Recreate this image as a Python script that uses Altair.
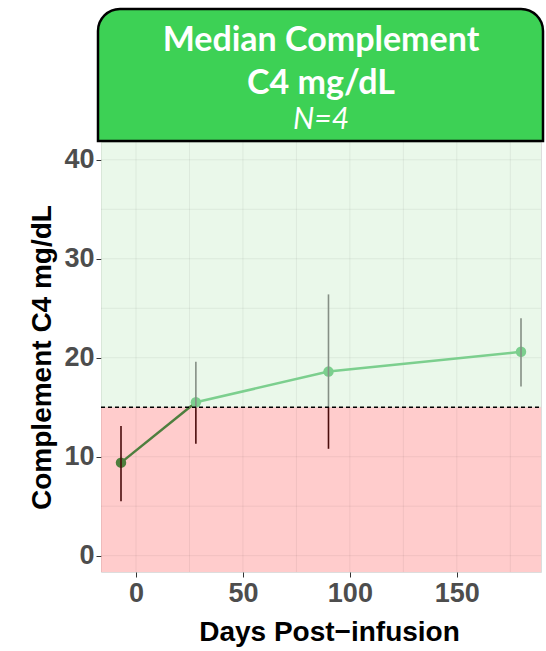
import altair as alt
import pandas as pd

# ---- data ----
days = [-7, 28, 90, 180]
median = [9.4, 15.5, 18.6, 20.6]
low = [5.5, 11.3, 10.8, 17.1]
high = [13.1, 19.6, 26.4, 24.0]
threshold = 15
x_domain = [-16.35, 189.35]
y_domain = [-1.65, 41.8]
x_ticks = [0, 50, 100, 150]
y_ticks = [0, 10, 20, 30, 40]
x_grid = [0, 25, 50, 75, 100, 125, 150, 175]
y_grid = [0, 5, 10, 15, 20, 25, 30, 35, 40]
title_lines = ["Median Complement", "C4 mg/dL"]
subtitle = "N=4"
x_title = "Days Post\u2212infusion"
y_title = "Complement C4 mg/dL"

W, H = 440, 430
DARK = "#4e7f3e"
LIGHT = "#7ccf8e"

df = pd.DataFrame({"day": days, "med": median, "lo": low, "hi": high})
df["below"] = df["med"] < threshold

xs = alt.Scale(domain=x_domain, nice=False, zero=False)
ys = alt.Scale(domain=y_domain, nice=False, zero=False)

xax = alt.Axis(values=x_ticks, grid=False, labelFont="Liberation Sans", labelFontWeight="bold",
               labelFontSize=27, labelColor="#4d4d4d", tickColor="#333333", tickSize=5,
               labelPadding=3, domain=False, title=x_title, titleFont="Liberation Sans",
               titleFontWeight="bold", titleFontSize=28, titleColor="black",
               titleX=228, titleY=68, titleBaseline="alphabetic", titleAlign="center")
yax = alt.Axis(values=y_ticks, grid=False, labelFont="Liberation Sans", labelFontWeight="bold",
               labelFontSize=27, labelColor="#4d4d4d", tickColor="#333333", tickSize=5,
               labelPadding=2, domain=False, title=y_title, titleFont="Liberation Sans",
               titleFontWeight="bold", titleFontSize=28, titleColor="black",
               titleX=-59, titleY=215, titleAngle=270, titleBaseline="middle", titleAlign="center")

bands = pd.DataFrame({"lo": [y_domain[0], threshold], "hi": [threshold, y_domain[1]],
                      "col": ["#ff9999", "#d6f1d6"]})
bg = alt.Chart(bands).mark_rect(opacity=0.5).encode(
    x=alt.value(0), x2=alt.value(W),
    y=alt.Y("lo:Q", scale=ys, axis=yax), y2="hi:Q",
    color=alt.Color("col:N", scale=None),
)

xgrid = alt.Chart(pd.DataFrame({"g": x_grid})).mark_rule(color="black", opacity=0.06, strokeWidth=1).encode(
    x=alt.X("g:Q", scale=xs, axis=xax), y=alt.value(0), y2=alt.value(H))
ygrid = alt.Chart(pd.DataFrame({"g": y_grid})).mark_rule(color="black", opacity=0.06, strokeWidth=1).encode(
    y=alt.Y("g:Q", scale=ys), x=alt.value(0), x2=alt.value(W))

thr = alt.Chart(pd.DataFrame({"t": [threshold]})).mark_rule(
    color="black", strokeDash=[4, 3], strokeWidth=1.6).encode(
    y=alt.Y("t:Q", scale=ys), x=alt.value(0), x2=alt.value(W))

seg_low = df.iloc[0:2]
seg_high = df.iloc[1:]
line_low = alt.Chart(seg_low).mark_line(color=DARK, strokeWidth=2.5).encode(
    x=alt.X("day:Q", scale=xs), y=alt.Y("med:Q", scale=ys))
line_high = alt.Chart(seg_high).mark_line(color=LIGHT, strokeWidth=2.5).encode(
    x=alt.X("day:Q", scale=xs), y=alt.Y("med:Q", scale=ys))

pts = alt.Chart(df).mark_circle(size=110, opacity=1).encode(
    x=alt.X("day:Q", scale=xs), y=alt.Y("med:Q", scale=ys),
    color=alt.condition("datum.below", alt.value(DARK), alt.value(LIGHT)))

eb_lo = pd.DataFrame({"day": df["day"], "a": df["lo"], "b": df["hi"].clip(upper=threshold)})
eb_lo = eb_lo[eb_lo["a"] < eb_lo["b"]]
eb_hi = pd.DataFrame({"day": df["day"], "a": df["lo"].clip(lower=threshold), "b": df["hi"]})
eb_hi = eb_hi[eb_hi["a"] < eb_hi["b"]]
err_lo = alt.Chart(eb_lo).mark_rule(color="#4a0c0c", strokeWidth=1.6).encode(
    x=alt.X("day:Q", scale=xs), y=alt.Y("a:Q", scale=ys), y2="b:Q")
err_hi = alt.Chart(eb_hi).mark_rule(color="#858f85", strokeWidth=1.6).encode(
    x=alt.X("day:Q", scale=xs), y=alt.Y("a:Q", scale=ys), y2="b:Q")

one = pd.DataFrame({"k": [0]})
header = alt.Chart(one).mark_rect(
    fill="#3dd155", stroke="black", strokeWidth=2.5,
    cornerRadiusTopLeft=22, cornerRadiusTopRight=22).encode(
    x=alt.value(-3), x2=alt.value(442), y=alt.value(-133), y2=alt.value(-1))

tdf = pd.DataFrame({"t1": [title_lines[0]], "t2": [title_lines[1]], "s": [subtitle]})
t1 = alt.Chart(tdf).mark_text(font="Lato", fontWeight="bold", fontSize=34, color="white",
                              baseline="alphabetic", align="center").encode(
    text="t1:N", x=alt.value(220), y=alt.value(-91))
t2 = alt.Chart(tdf).mark_text(font="Lato", fontWeight="bold", fontSize=34, color="white",
                              baseline="alphabetic", align="center").encode(
    text="t2:N", x=alt.value(220), y=alt.value(-48))
t3 = alt.Chart(tdf).mark_text(font="Lato", fontStyle="italic", fontSize=30, color="white",
                              baseline="alphabetic", align="center").encode(
    text="s:N", x=alt.value(220), y=alt.value(-13))

chart = alt.layer(bg, xgrid, ygrid, line_low, line_high, pts, err_lo, err_hi, thr,
                  header, t1, t2, t3).properties(
    width=W, height=H,
    autosize=alt.AutoSizeParams(type="none"),
    padding={"left": 101, "top": 142, "right": 5, "bottom": 79},
).configure_view(stroke="#333333", strokeWidth=1.6).configure(background="white")

chart.save("out.html", embed_options={"renderer": "svg", "actions": False})
